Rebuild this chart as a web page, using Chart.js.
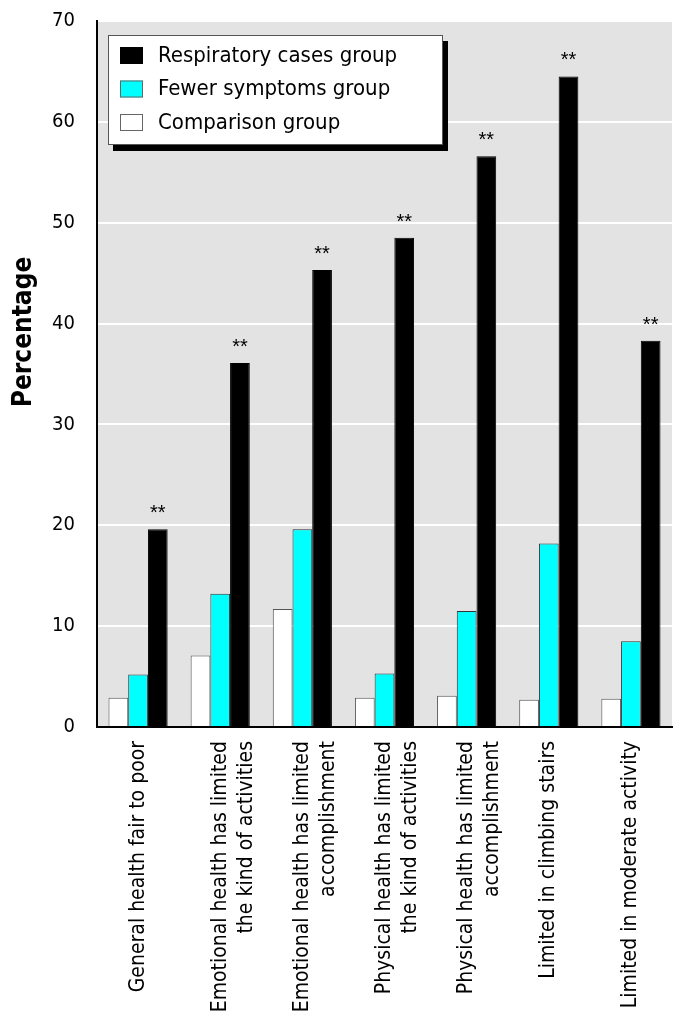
<!DOCTYPE html>
<html>
<head>
<meta charset="utf-8">
<script src="https://cdn.jsdelivr.net/npm/chart.js@4.4.0/dist/chart.umd.min.js"></script>
<style>
html,body{margin:0;padding:0;background:#fff;}
#wrap{width:682px;height:1024px;}
</style>
</head>
<body>
<div id="wrap"><canvas id="c" width="682" height="1024"></canvas></div>
<script>
const categories = [
  "General health fair to poor",
  ["Emotional health has limited", "the kind of activities"],
  ["Emotional health has limited", "accomplishment"],
  ["Physical health has limited", "the kind of activities"],
  ["Physical health has limited", "accomplishment"],
  "Limited in climbing stairs",
  "Limited in moderate activity"
];
const comparisonGroup = [2.9, 7.1, 11.7, 2.9, 3.1, 2.7, 2.8];
const fewerSymptomsGroup = [5.2, 13.2, 19.6, 5.3, 11.5, 18.2, 8.5];
const respiratoryCasesGroup = [19.6, 36.1, 45.3, 48.5, 56.6, 64.5, 38.3];
const significance = ["**", "**", "**", "**", "**", "**", "**"];
const seriesNames = ["Comparison group", "Fewer symptoms group", "Respiratory cases group"];
const yTicks = [0, 10, 20, 30, 40, 50, 60, 70];
const yTitle = "Percentage";

const NARROW = '"Liberation Sans Narrow", "DejaVu Sans Condensed", "Arial Narrow", sans-serif';
const REG = '"Liberation Sans", Arial, sans-serif';

const bgPlugin = {
  id: 'bg',
  beforeDraw(chart) {
    const a = chart.chartArea, ctx = chart.ctx;
    ctx.save();
    ctx.fillStyle = '#e3e3e3';
    ctx.fillRect(a.left, a.top, a.right - a.left, a.bottom - a.top);
    ctx.restore();
  }
};

const starsPlugin = {
  id: 'stars',
  afterDatasetsDraw(chart) {
    const ctx = chart.ctx;
    const meta = chart.getDatasetMeta(2);
    ctx.save();
    ctx.fillStyle = '#000';
    ctx.font = '20px ' + REG;
    ctx.textAlign = 'center';
    ctx.textBaseline = 'alphabetic';
    meta.data.forEach((el, i) => {
      ctx.fillText(significance[i], el.x, el.y - 10);
    });
    ctx.restore();
  }
};

const legendPlugin = {
  id: 'boxLegend',
  afterDatasetsDraw(chart) {
    const ctx = chart.ctx, a = chart.chartArea;
    const x = a.left + 11, y = a.top + 14, w = 335, h = 110;
    ctx.save();
    ctx.fillStyle = '#000';
    ctx.fillRect(x + 5, y + 6, w, h);
    ctx.fillStyle = '#fff';
    ctx.fillRect(x, y, w, h);
    ctx.strokeStyle = '#555';
    ctx.lineWidth = 1;
    ctx.strokeRect(x + 0.5, y + 0.5, w - 1, h - 1);
    const order = [2, 1, 0];
    ctx.font = '22px ' + NARROW;
    ctx.textBaseline = 'middle';
    order.forEach((di, r) => {
      const ds = chart.data.datasets[di];
      const cy = y + 20 + r * 33.5;
      ctx.fillStyle = ds.backgroundColor;
      ctx.fillRect(x + 12, cy - 8, 23, 17);
      ctx.strokeStyle = ds.backgroundColor === '#000000' ? '#000' : '#666';
      ctx.strokeRect(x + 12.5, cy - 7.5, 22, 16);
      ctx.fillStyle = '#000';
      ctx.fillText(ds.label, x + 50, cy + 1);
    });
    ctx.restore();
  }
};

const titlePlugin = {
  id: 'ytitle',
  afterDraw(chart) {
    const ctx = chart.ctx;
    ctx.save();
    ctx.translate(24, 332);
    ctx.rotate(-Math.PI / 2);
    ctx.font = 'bold 26px ' + NARROW;
    ctx.fillStyle = '#000';
    ctx.textAlign = 'center';
    ctx.textBaseline = 'middle';
    ctx.fillText(yTitle, 0, 0);
    ctx.restore();
  }
};

new Chart(document.getElementById('c'), {
  type: 'bar',
  data: {
    labels: categories,
    datasets: [
      { label: seriesNames[0], data: comparisonGroup, backgroundColor: '#ffffff', borderColor: '#555', borderWidth: 1 },
      { label: seriesNames[1], data: fewerSymptomsGroup, backgroundColor: '#00ffff', borderColor: '#333', borderWidth: 1 },
      { label: seriesNames[2], data: respiratoryCasesGroup, backgroundColor: '#000000', borderColor: '#000', borderWidth: 1 }
    ]
  },
  options: {
    responsive: false,
    animation: false,
    devicePixelRatio: 1,
    layout: { padding: { left: 0, right: 10, top: 21, bottom: 0 } },
    datasets: { bar: { categoryPercentage: 0.72, barPercentage: 1.0 } },
    plugins: { legend: { display: false }, tooltip: { enabled: false } },
    scales: {
      x: {
        grid: { display: false, drawTicks: false },
        border: { color: '#000', width: 2 },
        ticks: {
          color: '#000', font: { family: NARROW, size: 21, lineHeight: 1.25 }, padding: 14,
          minRotation: 90, maxRotation: 90, autoSkip: false
        },
        afterFit(scale) { scale.height = 297; scale.paddingLeft = 0; scale.paddingRight = 0; }
      },
      y: {
        min: 0, max: 70,
        afterBuildTicks(scale) { scale.ticks = yTicks.map(v => ({ value: v })); },
        grid: { color: '#ffffff', lineWidth: 2, drawTicks: false },
        border: { color: '#000', width: 2 },
        ticks: { color: '#000', font: { family: NARROW, size: 20 }, padding: 22 },
        afterFit(scale) { scale.width = 97; scale.paddingTop = 0; scale.paddingBottom = 0; }
      }
    }
  },
  plugins: [bgPlugin, starsPlugin, legendPlugin, titlePlugin]
});
</script>
</body>
</html>
